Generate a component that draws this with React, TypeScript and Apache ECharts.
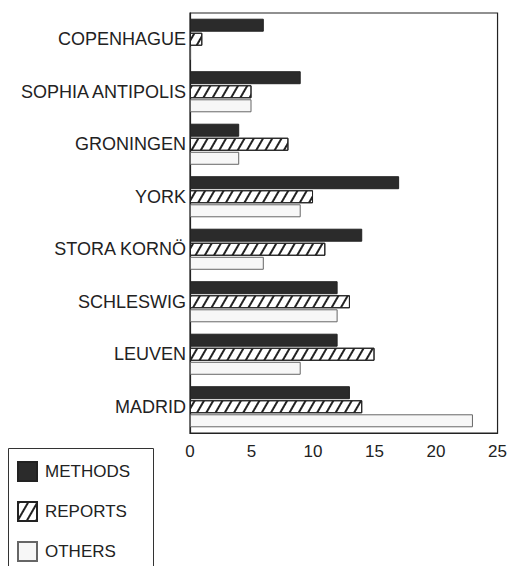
import React, { useEffect, useRef } from "react";
import * as echarts from "echarts";

const categories = [
  "COPENHAGUE",
  "SOPHIA ANTIPOLIS",
  "GRONINGEN",
  "YORK",
  "STORA KORNÖ",
  "SCHLESWIG",
  "LEUVEN",
  "MADRID",
];
const methods = [6, 9, 4, 17, 14, 12, 12, 13];
const reports = [1, 5, 8, 10, 11, 13, 15, 14];
const others = [0, 5, 4, 9, 6, 12, 9, 23];
const xTicks = [0, 5, 10, 15, 20, 25];

const FONT = "'Liberation Sans', Arial, Helvetica, sans-serif";

export default function App() {
  const ref = useRef<HTMLDivElement>(null);
  useEffect(() => {
    if (!ref.current) return;
    const chart = echarts.init(ref.current, undefined, { renderer: "svg" });
    chart.setOption({
      animation: false,
      backgroundColor: "#ffffff",
      textStyle: { fontFamily: FONT },
      grid: {
        left: 190,
        right: 10,
        top: 13,
        bottom: 133,
        show: true,
        borderColor: "#222",
        borderWidth: 1.2,
        containLabel: false,
      },
      xAxis: {
        type: "value",
        min: xTicks[0],
        max: xTicks[xTicks.length - 1],
        interval: 5,
        splitLine: { show: false },
        axisLine: { show: true, lineStyle: { color: "#222", width: 1.2 } },
        axisTick: { show: false },
        axisLabel: { color: "#222", fontSize: 17, margin: 10, fontFamily: FONT },
      },
      yAxis: {
        type: "category",
        data: categories,
        inverse: true,
        axisLine: { show: true, lineStyle: { color: "#222", width: 1.2 } },
        axisTick: { show: false },
        axisLabel: { color: "#222", fontSize: 18, margin: 4, fontFamily: FONT },
      },
      graphic: [
        {
          type: "rect",
          shape: { x: 8.5, y: 448.5, width: 145, height: 140 },
          style: { fill: "none", stroke: "#333", lineWidth: 1 },
          silent: true,
        },
      ],
      legend: {
        orient: "vertical",
        left: 17,
        top: 461,
        itemWidth: 19,
        itemHeight: 19,
        itemGap: 19,
        padding: 0,
        icon: "rect",
        textStyle: { color: "#222", fontSize: 17, fontFamily: FONT, padding: [0, 0, 0, 3] },
        data: ["METHODS", "REPORTS", "OTHERS"],
      },
      series: [
        {
          name: "METHODS",
          type: "bar",
          data: methods,
          barWidth: 13,
          barGap: "8%",
          itemStyle: { color: "#2b2b2b", borderColor: "#222", borderWidth: 1 },
        },
        {
          name: "REPORTS",
          type: "bar",
          data: reports,
          barWidth: 13,
          barGap: "8%",
          itemStyle: {
            color: "#ffffff",
            borderColor: "#222",
            borderWidth: 1,
            decal: {
              symbol: "rect",
              symbolSize: 1,
              color: "#222",
              backgroundColor: "#ffffff",
              dashArrayX: [1, 0],
              dashArrayY: [1.5, 5.5],
              rotation: -Math.PI / 3,
            },
          },
        },
        {
          name: "OTHERS",
          type: "bar",
          data: others,
          barWidth: 13,
          barGap: "8%",
          itemStyle: { color: "#f7f7f7", borderColor: "#666", borderWidth: 1 },
        },
      ],
    });
    return () => chart.dispose();
  }, []);
  return <div ref={ref} style={{ width: 510, height: 566, position: "absolute", left: 0, top: 0 }} />;
}
